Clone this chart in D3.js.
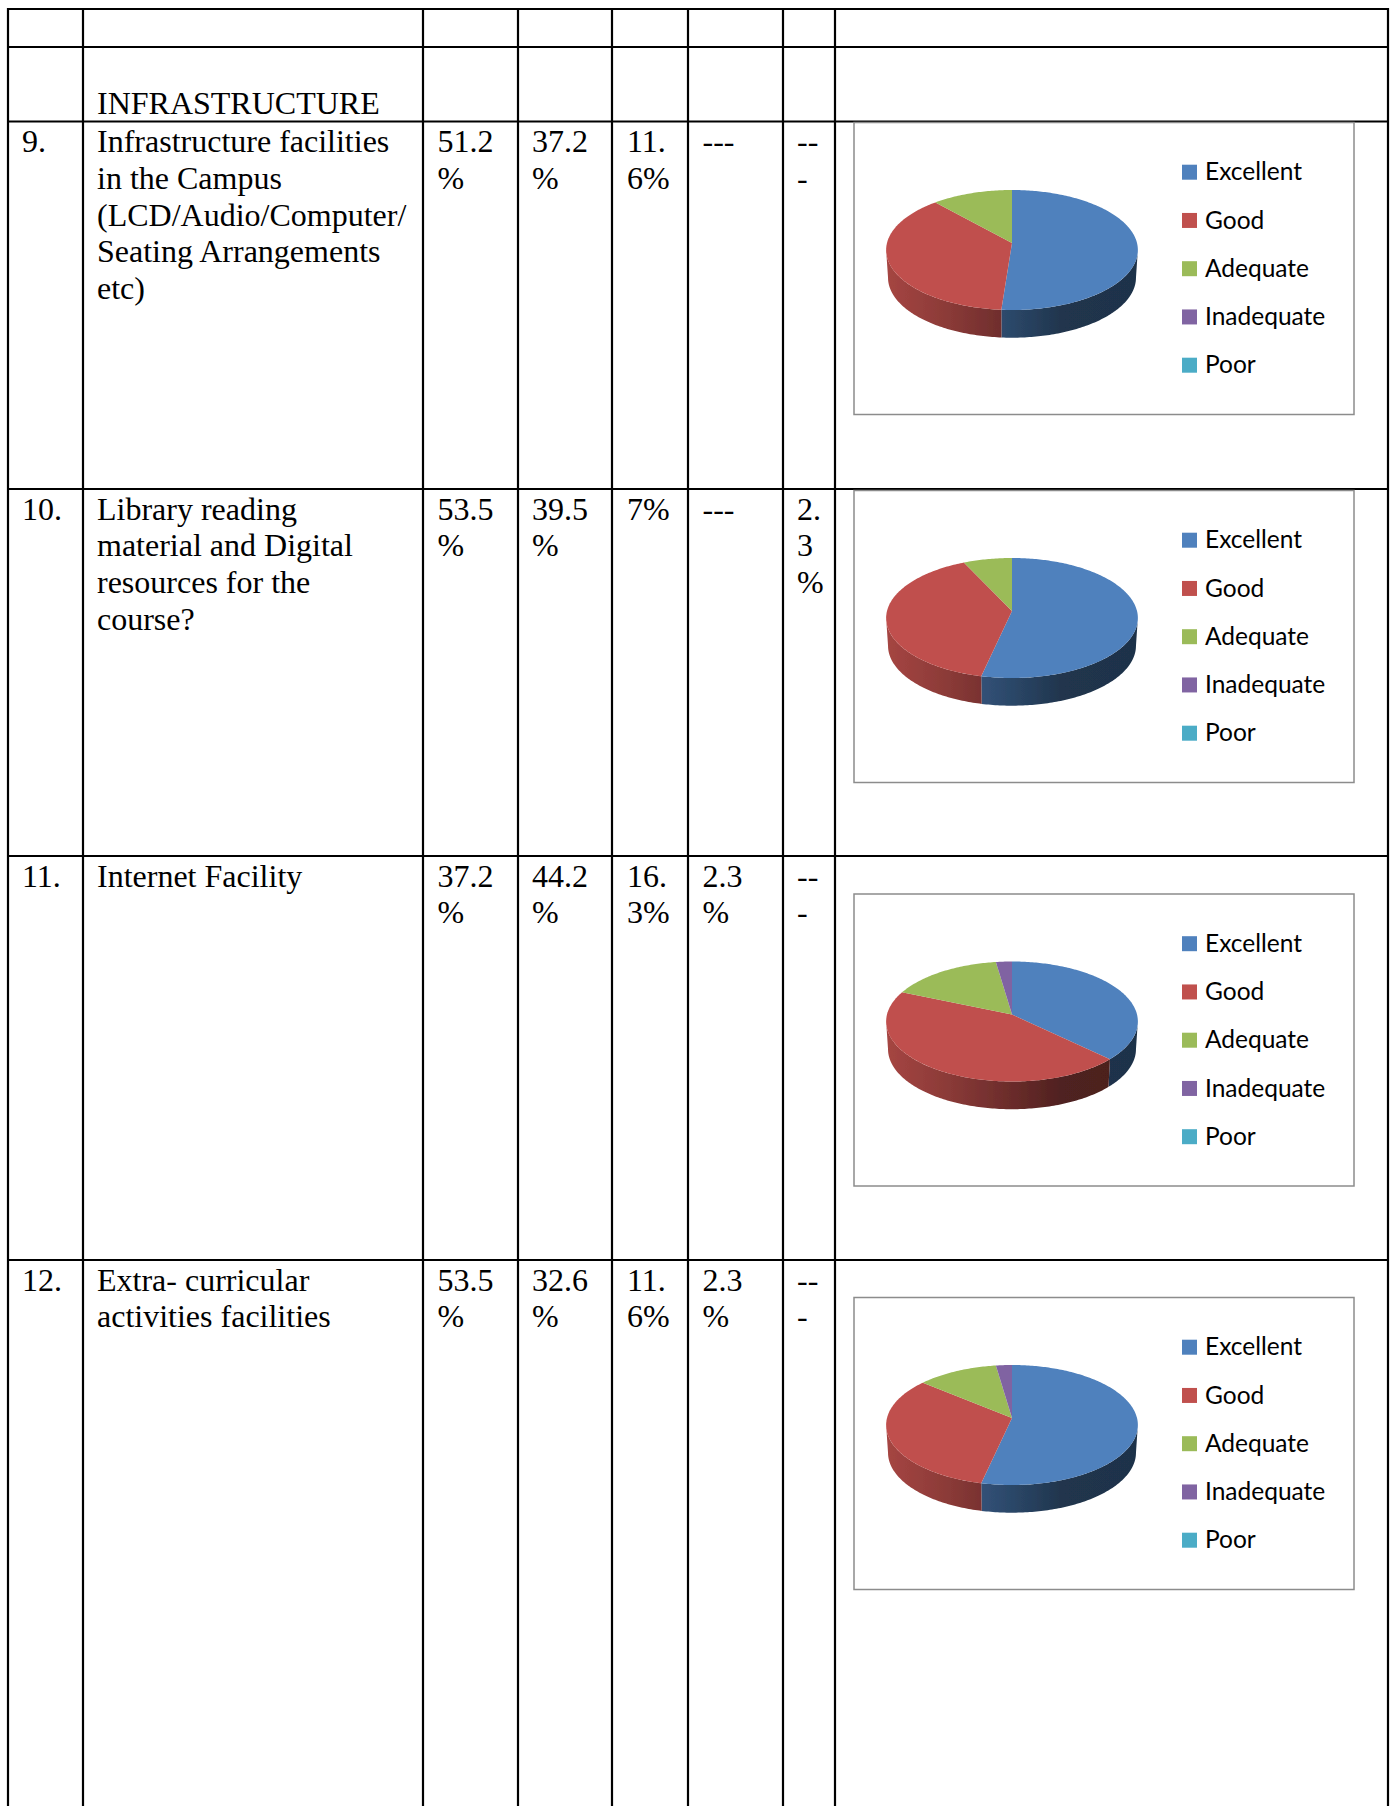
<!DOCTYPE html>
<html>
<head>
<meta charset="utf-8">
<script src="https://cdn.jsdelivr.net/npm/d3@7"></script>
<style>
  html, body { margin: 0; padding: 0; background: #fff; }
  svg { display: block; }
  .cell { font-family: "Liberation Serif", serif; font-size: 32px; fill: #000; }
  .legend { font-family: Lato, sans-serif; font-size: 24.5px; fill: #000; }
</style>
</head>
<body>
<script>
// pie values, one list per legend entry
const legendLabels = ["Excellent", "Good", "Adequate", "Inadequate", "Poor"];
const legendColors = ["#4F81BD", "#C0504D", "#9BBB59", "#8064A2", "#4BACC6"];
const pie9 = [51.2, 37.2, 11.6, 0, 0];
const pie10 = [53.5, 39.5, 7, 0, 0];
const pie11 = [37.2, 44.2, 16.3, 2.3, 0];
const pie12 = [53.5, 32.6, 11.6, 2.3, 0];

// table text, wrapped the way the cells wrap it
const rowNumbers = ["9.", "10.", "11.", "12."];
const rowLabels = [
  ["Infrastructure facilities", "in the Campus", "(LCD/Audio/Computer/", "Seating Arrangements", "etc)"],
  ["Library reading", "material and Digital", "resources for the", "course?"],
  ["Internet Facility"],
  ["Extra- curricular", "activities facilities"]
];
const excellentCells = [["51.2", "%"], ["53.5", "%"], ["37.2", "%"], ["53.5", "%"]];
const goodCells = [["37.2", "%"], ["39.5", "%"], ["44.2", "%"], ["32.6", "%"]];
const adequateCells = [["11.", "6%"], ["7%"], ["16.", "3%"], ["11.", "6%"]];
const inadequateCells = [["---"], ["---"], ["2.3", "%"], ["2.3", "%"]];
const poorCells = [["--", "-"], ["2.", "3", "%"], ["--", "-"], ["--", "-"]];

const width = 1392, height = 1806;
const colEdges = [8, 83, 423, 518, 612, 688, 783, 835, 1388];
const rowEdges = [9, 47, 121.5, 489, 856, 1260];
const colText = [22, 97, 437.5, 532, 627, 702.5, 797];
const lineHeight = 36.8, firstBaseline = 30.5;
const frameTops = [122.5, 490.5, 894, 1297.5];

const svg = d3.select("body").append("svg").attr("width", width).attr("height", height);
const defs = svg.append("defs");
defs.append("filter").attr("id", "soft").append("feGaussianBlur").attr("stdDeviation", 0.5);

// table rules
const table = svg.append("g").attr("stroke", "#000").attr("stroke-width", 2.2);
table.selectAll("line.v").data(colEdges).enter().append("line").attr("class", "v")
  .attr("x1", d => d).attr("x2", d => d).attr("y1", rowEdges[0] - 1).attr("y2", height);
table.selectAll("line.h").data(rowEdges).enter().append("line").attr("class", "h")
  .attr("x1", colEdges[0]).attr("x2", colEdges[colEdges.length - 1]).attr("y1", d => d).attr("y2", d => d);

// table text
const cells = svg.append("g").attr("class", "cell");
function cellText(x, top, lines) {
  lines.forEach((t, i) => {
    cells.append("text").attr("x", x).attr("y", top + firstBaseline + i * lineHeight).text(t);
  });
}
cellText(colText[1], rowEdges[1] + 36.3, ["INFRASTRUCTURE"]);
const columns = [rowNumbers.map(d => [d]), rowLabels, excellentCells, goodCells, adequateCells, inadequateCells, poorCells];
columns.forEach((col, c) => col.forEach((lines, r) => cellText(colText[c], rowEdges[r + 2], lines)));

// pie geometry: a tilted disc, the circle goes through a projective map so
// the centre sits a little above the middle of the ellipse like in the picture
const frameW = 500, frameH = 292;
const cx = 158, cy = 127.5, rx = 125, ry = 60, apex = -7, depth = 27.7;
const k = apex / ry;
function project(a, shrink) {
  const u = Math.sin(a), v = -Math.cos(a), w = 1 + k * v;
  return [cx + shrink * rx * u / w, cy + (ry * v + apex) / w];
}
const frontStart = Math.acos(k), frontEnd = 2 * Math.PI - Math.acos(k);
const pathLine = d3.line();
function arcPoints(a0, a1, shrink, dy) {
  const n = Math.max(2, Math.ceil((a1 - a0) * 60));
  return d3.range(n + 1).map(i => {
    const p = project(a0 + (a1 - a0) * i / n, shrink);
    return [p[0], p[1] + dy];
  });
}

// wall shading goes left to right across the disc
const wallStops = [[0, .86], [.25, .72], [.38, .63], [.5, .55], [.7, .41], [1, .39]];
legendColors.forEach((c, i) => {
  const g = defs.append("linearGradient").attr("id", "wall" + i).attr("gradientUnits", "userSpaceOnUse")
    .attr("x1", cx - rx).attr("x2", cx + rx).attr("y1", 0).attr("y2", 0);
  const base = d3.rgb(c);
  wallStops.forEach(s => {
    g.append("stop").attr("offset", s[0])
      .attr("stop-color", d3.rgb(base.r * s[1], base.g * s[1], base.b * s[1]).formatHex());
  });
});

const pieLayout = d3.pie().sort(null);
const legendY = d3.scalePoint().domain(legendLabels).range([49.7, 242.7]);

function drawChart(values, top) {
  const frame = svg.append("g").attr("transform", `translate(854,${top})`);
  frame.append("rect").attr("width", frameW).attr("height", frameH)
    .attr("fill", "#fff").attr("stroke", "#8c8c8c").attr("stroke-width", 1.5);

  const slices = pieLayout(values).map((d, i) => ({ ...d, i })).filter(d => d.value > 0);
  const disc = frame.append("g").attr("filter", "url(#soft)");

  slices.forEach(d => {
    const a0 = Math.max(d.startAngle, frontStart), a1 = Math.min(d.endAngle, frontEnd);
    if (a0 >= a1) return;
    const upper = arcPoints(a0, a1, 1, 0);
    const lower = arcPoints(a0, a1, 0.985, depth).reverse();
    disc.append("path").attr("d", pathLine(upper.concat(lower)) + "Z").attr("fill", `url(#wall${d.i})`);
  });
  slices.forEach(d => {
    const centre = [cx, cy + apex];
    const pts = [centre].concat(arcPoints(d.startAngle, d.endAngle, 1, 0));
    disc.append("path").attr("d", pathLine(pts) + "Z").attr("fill", legendColors[d.i]);
  });

  const legend = frame.selectAll("g.entry").data(legendLabels).enter().append("g").attr("class", "entry")
    .attr("transform", d => `translate(328,${legendY(d)})`);
  legend.append("rect").attr("x", 0).attr("y", -7.5).attr("width", 15).attr("height", 15)
    .attr("fill", (d, i) => legendColors[i]);
  legend.append("text").attr("class", "legend").attr("x", 23).attr("y", 8.2).text(d => d);
}

[pie9, pie10, pie11, pie12].forEach((values, i) => drawChart(values, frameTops[i]));
</script>
</body>
</html>
